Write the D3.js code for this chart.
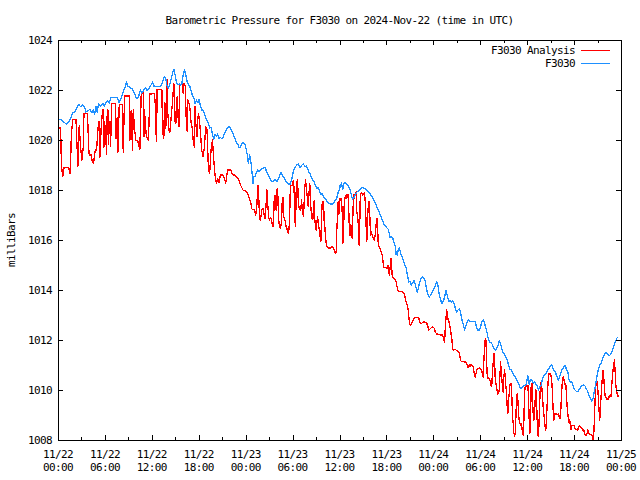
<!DOCTYPE html>
<html>
<head>
<meta charset="utf-8">
<script src="https://cdn.jsdelivr.net/npm/d3@7"></script>
<style>
  html, body { margin: 0; padding: 0; background: #fff; }
  svg { display: block; }
  text { font-family: "DejaVu Sans Mono", "Liberation Mono", monospace; font-size: 11px; letter-spacing: -0.62px; fill: #000; }
</style>
</head>
<body>
<svg id="chart" width="640" height="480"></svg>
<script>
// ---- Data (hours after 2024-11-22 00:00 UTC, pressure in millibars) ----
const chartTitle = "Barometric Pressure for F3030 on 2024-Nov-22 (time in UTC)";
const yAxisLabel = "milliBars";
const seriesNames = ["F3030 Analysis", "F3030"];
const startTime = Date.UTC(2024, 10, 22, 0, 0);
const endTime = Date.UTC(2024, 10, 25, 0, 0);
const yTickValues = [1008, 1010, 1012, 1014, 1016, 1018, 1020, 1022, 1024];

const analysisHours = [
0.08,0.34,0.43,0.60,0.68,0.77,1.36,1.53,1.62,1.70,1.87,2.30,2.38,2.55,2.64,2.72,2.89,3.06,3.23,3.32,3.74,3.83,3.91,4.00,4.26,4.34,4.51,4.60,4.77,4.94,
5.02,5.19,5.28,5.36,5.53,5.70,5.79,5.87,5.96,6.13,6.21,6.30,6.38,6.47,6.55,6.64,6.72,6.89,7.32,7.40,7.49,7.57,7.66,7.83,8.26,8.34,8.51,9.11,9.19,9.36,
9.53,9.62,9.79,9.96,10.21,10.47,10.64,10.89,10.98,11.06,11.23,11.32,11.57,11.74,12.00,12.34,12.43,12.51,12.60,12.68,13.28,13.36,13.45,13.53,13.62,13.70,13.79,13.87,13.96,14.04,
14.21,14.30,14.38,14.47,14.64,14.72,14.81,14.89,14.98,15.06,15.15,15.23,15.32,15.40,15.49,15.57,15.74,15.83,15.91,16.00,16.09,16.17,16.26,16.34,16.43,16.51,16.60,16.77,16.85,16.94,
17.02,17.11,17.19,17.28,17.36,17.45,17.53,17.62,17.70,17.79,17.87,17.96,18.04,18.13,18.38,18.55,18.73,18.89,19.06,19.24,19.40,19.57,19.75,19.92,20.08,20.26,20.43,20.59,20.77,21.10,
21.28,21.45,21.70,22.12,22.30,22.56,22.81,23.15,23.40,23.66,24.00,24.17,24.34,24.51,24.68,24.77,24.94,25.11,25.19,25.28,25.36,25.45,25.53,25.62,25.70,25.79,25.87,25.96,26.04,26.21,
26.30,26.38,26.47,26.55,26.64,26.72,26.81,26.89,26.98,27.06,27.15,27.32,27.40,27.49,27.57,27.66,27.74,27.83,27.91,28.00,28.09,28.17,28.26,28.34,28.43,28.51,28.60,28.68,28.77,28.85,
29.02,29.11,29.19,29.28,29.36,29.45,29.53,29.62,29.70,29.79,29.96,30.04,30.13,30.21,30.30,30.38,30.47,30.55,30.64,30.72,30.81,30.89,30.98,31.06,31.15,31.23,31.32,31.40,31.49,31.57,
31.66,31.74,31.83,31.91,32.00,32.08,32.17,32.25,32.34,32.42,32.51,32.59,32.68,32.76,32.85,32.94,33.02,33.11,33.19,33.28,33.36,33.45,33.53,33.62,33.70,33.79,33.87,33.96,34.04,34.13,
34.21,34.30,34.38,34.47,34.64,34.81,34.98,35.15,35.32,35.49,35.57,35.66,35.74,35.83,35.92,36.00,36.09,36.17,36.26,36.34,36.43,36.51,36.60,36.68,36.77,36.85,36.94,37.02,37.11,37.19,
37.28,37.36,37.45,37.53,37.62,37.70,37.79,37.87,37.96,38.04,38.13,38.21,38.30,38.38,38.47,38.55,38.64,38.72,38.81,38.89,38.98,39.06,39.15,39.23,39.32,39.40,39.49,39.57,39.66,39.74,
39.83,39.91,40.00,40.09,40.17,40.26,40.34,40.43,40.51,40.60,40.68,40.77,40.85,40.94,41.02,41.11,41.19,41.28,41.36,41.45,41.53,41.62,41.70,41.96,42.13,42.21,42.30,42.38,42.47,42.55,
42.64,42.72,42.81,42.89,43.06,43.15,43.23,43.32,43.40,43.49,43.57,44.00,44.17,44.26,44.34,44.51,44.68,44.77,44.85,44.94,45.02,45.11,45.28,45.45,45.62,46.13,46.30,46.47,46.64,46.81,
46.98,47.15,47.32,47.40,47.57,47.74,47.91,48.00,48.09,48.26,48.43,48.60,48.77,48.94,49.11,49.28,49.36,49.45,49.53,49.62,49.70,49.79,49.87,49.96,50.04,50.13,50.21,50.30,50.38,50.47,
50.56,50.73,50.90,51.07,51.15,51.32,51.41,51.49,51.58,52.00,52.17,52.34,52.43,52.51,52.60,52.68,52.77,53.02,53.11,53.19,53.28,53.36,53.45,53.53,53.70,53.87,54.04,54.21,54.30,54.38,
54.47,54.56,54.64,54.73,54.81,54.90,54.98,55.07,55.15,55.24,55.32,55.41,55.49,55.58,55.66,55.75,55.83,55.92,56.00,56.09,56.17,56.26,56.34,56.43,56.51,56.60,56.68,56.77,56.85,56.94,
57.02,57.11,57.19,57.28,57.36,57.45,57.53,57.62,57.70,57.79,57.87,57.96,58.04,58.13,58.21,58.30,58.39,58.47,58.56,58.64,58.73,58.81,58.90,58.98,59.07,59.15,59.24,59.32,59.41,59.49,
59.58,59.66,59.75,59.92,60.09,60.17,60.26,60.34,60.43,60.51,60.60,60.68,60.77,60.85,60.94,61.02,61.11,61.19,61.28,61.36,61.45,61.53,61.62,61.70,61.79,61.87,61.96,62.04,62.13,62.21,
62.30,62.38,62.47,62.56,62.64,62.73,62.81,62.90,62.98,63.07,63.15,63.24,63.32,63.41,63.49,63.75,63.83,64.00,64.17,64.26,64.34,64.43,64.51,64.60,64.68,64.77,64.85,64.94,65.02,65.11,
65.19,65.28,65.36,65.45,65.53,65.62,65.70,65.96,66.04,66.13,66.47,66.55,66.73,66.90,66.98,67.07,67.24,67.32,67.41,67.58,67.66,67.75,67.83,67.92,68.00,68.26,68.34,68.43,68.51,68.60,
68.68,68.77,68.85,68.94,69.02,69.11,69.19,69.28,69.36,69.45,69.53,69.62,69.70,69.79,69.87,69.96,70.04,70.13,70.21,70.30,70.39,70.47,70.56,70.64,70.73,70.81,70.90,70.98,71.07,71.15,
71.24,71.32,71.41,71.49,71.58,71.66
];
const analysisValues = [
1020.48,1020.48,1019.04,1018.53,1018.67,1018.91,1018.91,1018.67,1019.17,1020.16,1020.80,1020.83,1020.16,1018.96,1020.19,1020.56,1019.68,1019.20,1019.71,1021.07,1021.07,1020.59,1019.71,1019.40,1019.40,1019.20,1019.07,1019.20,1019.60,1019.60,
1020.00,1020.75,1020.75,1019.31,1020.53,1021.20,1021.20,1019.71,1020.75,1020.00,1019.41,1021.20,1021.20,1019.84,1020.75,1020.75,1019.76,1021.47,1021.47,1020.05,1020.05,1020.91,1019.52,1021.41,1021.41,1019.49,1021.76,1021.76,1020.00,1021.17,
1019.60,1021.20,1020.43,1020.00,1019.95,1019.63,1021.81,1021.89,1020.13,1021.20,1020.40,1020.13,1019.97,1021.84,1021.84,1021.87,1021.47,1020.40,1019.95,1022.03,1022.03,1020.53,1020.21,1020.05,1021.49,1020.53,1020.45,1022.37,1022.43,1021.07,
1020.37,1020.32,1020.53,1020.93,1021.47,1021.87,1022.27,1021.87,1020.72,1020.67,1020.75,1021.73,1021.33,1020.59,1020.53,1022.16,1022.21,1022.24,1022.16,1021.87,1022.27,1022.27,1022.16,1021.47,1020.53,1020.35,1021.60,1021.44,1021.33,1021.04,
1020.69,1020.59,1020.43,1020.00,1019.84,1019.71,1021.33,1020.67,1020.40,1020.13,1020.80,1021.07,1020.93,1020.67,1019.60,1019.33,1019.73,1020.53,1020.40,1018.80,1018.68,1019.60,1020.00,1019.20,1018.60,1018.28,1018.44,1018.28,1018.60,1018.60,
1018.44,1018.28,1018.80,1018.80,1018.61,1018.60,1018.53,1018.40,1018.16,1018.00,1017.95,1017.89,1017.79,1017.60,1017.47,1017.25,1017.20,1017.23,1017.12,1016.99,1017.17,1017.47,1018.13,1018.19,1017.47,1016.85,1016.80,1016.93,1017.23,1017.25,
1017.12,1016.96,1016.85,1017.07,1017.60,1018.00,1017.47,1017.15,1016.85,1016.80,1016.91,1016.80,1016.61,1016.53,1016.80,1017.71,1017.79,1017.33,1017.20,1018.00,1018.05,1017.23,1016.67,1016.56,1016.45,1016.59,1016.77,1017.63,1017.71,1016.93,
1016.80,1016.64,1016.51,1016.45,1016.32,1016.27,1016.40,1016.80,1018.00,1018.19,1018.19,1018.35,1018.37,1017.84,1016.80,1016.53,1018.13,1018.32,1018.40,1017.60,1017.33,1017.23,1017.20,1017.25,1017.60,1017.20,1017.07,1016.93,1017.60,1018.13,
1018.40,1018.13,1017.87,1017.60,1017.33,1017.73,1018.27,1018.13,1017.33,1016.93,1016.85,1016.83,1017.31,1017.57,1016.80,1016.51,1016.40,1016.72,1016.93,1016.75,1016.53,1016.29,1016.11,1015.95,1016.93,1017.47,1017.52,1017.55,1016.75,1016.53,
1016.11,1015.87,1015.73,1015.71,1015.68,1015.68,1015.73,1015.73,1015.60,1015.47,1015.52,1016.40,1016.93,1017.55,1017.03,1017.56,1017.67,1017.59,1017.64,1017.13,1015.88,1016.07,1017.40,1017.69,1017.67,1017.80,1017.67,1017.80,1017.80,1017.13,
1016.25,1016.17,1016.60,1016.23,1016.07,1016.87,1017.83,1017.67,1017.80,1017.88,1017.93,1017.13,1017.00,1016.73,1015.83,1015.80,1017.53,1017.85,1017.88,1017.85,1017.80,1017.85,1017.88,1017.80,1017.40,1016.60,1015.93,1016.73,1017.27,1017.53,
1017.53,1016.60,1016.20,1016.33,1016.20,1016.12,1016.07,1015.99,1016.12,1016.25,1016.60,1016.87,1016.73,1015.93,1015.75,1015.72,1015.67,1015.56,1015.53,1015.40,1015.24,1014.95,1014.89,1014.89,1014.87,1014.97,1014.73,1014.60,1014.87,1015.24,
1015.27,1014.60,1014.52,1014.47,1014.44,1014.39,1014.33,1014.20,1014.07,1013.99,1013.93,1013.93,1013.91,1013.85,1013.77,1013.53,1013.40,1013.21,1013.00,1012.73,1012.60,1012.60,1012.71,1012.81,1012.89,1012.89,1012.68,1012.65,1012.71,1012.73,
1012.71,1012.68,1012.52,1012.39,1012.44,1012.49,1012.52,1012.51,1012.48,1012.32,1012.24,1012.24,1012.21,1012.19,1012.21,1012.11,1012.00,1011.92,1012.53,1012.85,1013.20,1013.07,1012.85,1012.69,1012.72,1012.53,1012.40,1012.16,1012.00,1011.65,
1011.60,1011.63,1011.60,1011.57,1011.55,1011.47,1011.31,1011.17,1011.15,1011.12,1011.12,1010.99,1010.91,1010.96,1011.01,1010.93,1011.01,1010.99,1010.93,1010.75,1010.61,1010.51,1010.64,1010.80,1010.85,1010.88,1010.83,1010.77,1010.59,1010.51,
1011.20,1011.73,1012.05,1012.00,1011.20,1010.53,1010.45,1010.48,1010.45,1010.40,1010.27,1010.13,1010.27,1010.80,1011.12,1011.47,1011.20,1010.40,1010.27,1010.13,1009.95,1009.84,1009.87,1010.03,1010.53,1011.12,1010.80,1010.40,1010.13,1009.89,
1010.53,1010.80,1010.53,1010.13,1009.87,1009.33,1009.07,1009.60,1009.87,1010.19,1010.27,1010.24,1009.73,1008.93,1008.67,1008.27,1008.16,1008.27,1008.93,1009.73,1009.87,1009.60,1009.07,1008.80,1008.67,1008.59,1008.64,1008.53,1008.27,1008.20,
1008.80,1009.87,1010.13,1010.16,1010.19,1009.73,1008.80,1008.27,1008.80,1010.13,1010.27,1009.65,1009.07,1008.80,1008.93,1009.60,1010.00,1009.73,1008.80,1008.19,1008.13,1008.80,1009.60,1010.29,1010.27,1010.13,1009.73,1009.33,1009.07,1008.80,
1008.53,1008.40,1008.80,1009.47,1010.13,1010.59,1010.67,1010.61,1010.67,1010.53,1010.32,1009.87,1009.20,1008.80,1009.04,1009.04,1009.01,1009.04,1008.85,1008.93,1009.47,1010.00,1010.40,1010.53,1010.45,1010.32,1010.21,1010.27,1009.79,1009.33,
1009.07,1008.80,1008.67,1008.80,1008.53,1008.40,1008.59,1008.59,1008.53,1008.45,1008.40,1008.51,1008.56,1008.51,1008.48,1008.40,1008.40,1008.27,1008.19,1008.19,1008.27,1008.40,1008.32,1008.27,1008.21,1008.21,1008.13,1008.03,1008.19,1008.80,
1009.60,1010.13,1010.35,1010.32,1010.13,1009.60,1009.20,1008.80,1009.20,1009.73,1010.13,1010.53,1010.80,1010.53,1010.13,1009.79,1009.73,1009.68,1009.63,1009.65,1009.63,1009.73,1009.79,1009.81,1009.73,1010.13,1010.53,1010.80,1010.93,1011.20,
1010.80,1010.27,1010.00,1009.87,1009.73,1009.79
];

const stationHours = [
0.08,0.43,0.68,1.11,1.45,1.70,1.87,2.13,2.38,2.64,2.89,3.15,3.40,3.57,3.83,4.09,4.34,4.51,4.68,4.85,5.02,5.19,5.45,5.70,5.96,6.13,6.30,6.55,6.81,7.57,
7.83,8.09,8.34,8.60,8.77,8.94,9.19,9.53,9.79,10.04,10.30,10.55,10.72,10.98,11.23,11.40,11.66,11.91,12.09,12.26,12.60,13.02,13.28,13.45,13.62,13.79,13.96,14.13,14.30,14.47,
14.64,14.81,14.98,15.15,15.32,15.49,15.66,15.83,16.00,16.17,16.34,16.51,16.68,16.85,17.02,17.19,17.36,17.53,17.70,17.87,18.04,18.21,18.38,18.55,18.72,18.89,19.06,19.23,19.40,19.57,
19.74,19.91,20.08,20.25,20.42,20.60,20.77,20.94,21.11,21.28,21.45,21.62,21.79,21.96,22.13,22.30,22.47,22.64,22.81,22.98,23.15,23.32,23.49,23.66,23.92,24.09,24.25,24.34,24.43,24.51,
24.60,24.68,24.77,24.94,25.02,25.19,25.36,25.53,25.70,25.87,26.04,26.30,26.47,26.64,26.81,26.98,27.15,27.32,27.49,27.66,27.83,28.00,28.17,28.34,28.51,28.68,28.85,29.02,29.19,29.36,
29.53,29.70,29.87,30.04,30.21,30.38,30.55,30.72,30.89,31.06,31.23,31.40,31.57,31.74,31.91,32.08,32.25,32.42,32.59,32.76,32.94,33.11,33.28,33.45,33.62,33.79,33.96,34.13,34.30,34.47,
34.64,34.81,35.15,35.32,35.49,35.66,35.83,36.00,36.09,36.17,36.26,36.34,36.43,36.51,36.68,36.85,37.02,37.19,37.36,37.53,37.70,37.87,38.04,38.21,38.38,38.55,38.72,38.98,39.23,39.40,
39.66,39.83,40.00,40.17,40.34,40.51,40.68,40.85,41.02,41.19,41.36,41.53,41.70,41.87,42.04,42.21,42.38,42.47,42.64,42.81,42.98,43.15,43.23,43.32,43.40,43.49,43.66,43.83,44.00,44.17,
44.34,44.51,44.60,44.77,44.85,45.02,45.19,45.36,45.53,45.70,45.87,45.96,46.13,46.30,46.47,46.64,46.81,46.98,47.15,47.32,47.49,47.66,47.92,48.09,48.26,48.43,48.60,48.77,48.94,49.11,
49.28,49.45,49.62,49.79,49.96,50.13,50.30,50.47,50.64,50.81,50.98,51.15,51.32,51.49,51.66,51.83,52.00,52.17,52.34,52.51,52.68,53.19,53.36,53.53,53.70,53.87,54.04,54.21,54.38,54.55,
54.72,54.89,55.06,55.23,55.40,55.57,55.74,55.91,56.08,56.25,56.42,56.59,56.76,56.93,57.11,57.28,57.45,57.62,57.79,57.96,58.13,58.30,58.47,58.64,58.81,58.98,59.15,59.32,59.49,59.66,
59.83,59.92,60.09,60.26,60.43,60.60,60.77,60.94,61.11,61.28,61.45,61.62,61.79,61.96,62.13,62.30,62.47,62.64,62.81,62.98,63.15,63.32,63.49,63.66,63.83,64.00,64.17,64.34,64.51,64.68,
64.85,65.02,65.19,65.36,65.53,65.70,65.87,66.04,66.21,66.38,66.55,66.72,66.89,67.06,67.23,67.40,67.57,67.74,67.91,68.09,68.26,68.43,68.60,68.77,68.94,69.11,69.28,69.45,69.62,69.79,
69.96,70.13,70.30,70.47,70.64,70.81,70.98,71.15,71.32,71.49,71.66
];
const stationValues = [
1020.83,1020.80,1020.72,1020.64,1020.75,1020.93,1021.09,1021.13,1021.27,1021.43,1021.33,1021.41,1021.31,1021.12,1021.17,1021.23,1021.09,1021.20,1021.04,1021.33,1021.12,1021.47,1021.33,1021.47,1021.36,1021.49,1021.57,1021.47,1021.71,1021.71,
1021.49,1021.68,1021.92,1022.13,1022.32,1022.16,1022.11,1022.03,1021.87,1021.65,1021.73,1022.00,1021.87,1022.00,1022.08,1021.97,1022.08,1022.21,1022.32,1022.16,1022.13,1022.13,1022.24,1022.40,1022.53,1022.43,1022.16,1022.08,1022.24,1022.43,
1022.67,1022.83,1022.61,1022.29,1022.21,1022.24,1022.19,1022.24,1022.59,1022.80,1022.61,1022.35,1022.21,1022.16,1021.97,1021.79,1021.71,1021.44,1021.60,1021.49,1021.63,1021.36,1021.20,1021.20,1021.07,1020.91,1020.77,1020.67,1020.48,1020.51,
1020.24,1020.03,1020.24,1020.16,1020.24,1020.05,1020.11,1020.05,1020.11,1020.27,1020.37,1020.45,1020.53,1020.51,1020.40,1020.32,1020.16,1020.05,1019.89,1019.84,1019.71,1019.71,1019.84,1019.89,1019.84,1019.60,1019.33,1019.07,1019.23,1019.41,
1019.23,1019.09,1018.85,1018.27,1018.53,1018.53,1018.69,1018.80,1018.72,1018.80,1018.85,1018.88,1018.91,1018.77,1018.64,1018.56,1018.43,1018.35,1018.32,1018.40,1018.43,1018.32,1018.45,1018.56,1018.69,1018.59,1018.51,1018.43,1018.32,1018.27,
1018.24,1018.24,1018.40,1018.67,1018.83,1018.93,1019.01,1019.04,1018.91,1018.93,1019.01,1019.04,1018.93,1018.96,1018.88,1018.72,1018.64,1018.51,1018.40,1018.35,1018.16,1018.05,1018.11,1017.95,1017.81,1017.87,1017.73,1017.68,1017.60,1017.52,
1017.47,1017.44,1017.44,1017.52,1017.60,1017.70,1017.90,1018.00,1018.20,1018.12,1018.28,1018.12,1018.04,1018.20,1018.31,1018.25,1018.23,1018.12,1018.01,1017.77,1017.64,1017.72,1017.83,1017.91,1017.96,1018.01,1018.07,1018.09,1018.07,1018.01,
1017.93,1017.88,1017.80,1017.72,1017.61,1017.51,1017.40,1017.27,1017.16,1017.00,1016.89,1016.76,1016.63,1016.57,1016.49,1016.44,1016.23,1016.09,1016.15,1016.07,1015.91,1015.72,1015.43,1015.53,1015.40,1015.59,1015.69,1015.45,1015.32,1015.19,
1015.03,1014.89,1014.73,1014.47,1014.31,1014.36,1014.20,1014.28,1014.39,1014.23,1013.99,1013.91,1014.15,1014.36,1014.49,1014.52,1014.47,1014.33,1014.01,1013.80,1013.72,1013.80,1013.95,1014.05,1014.19,1014.32,1014.16,1013.81,1013.60,1013.44,
1013.55,1013.73,1013.97,1013.79,1013.55,1013.57,1013.52,1013.57,1013.47,1013.28,1013.12,1013.20,1013.25,1013.09,1012.80,1012.64,1012.40,1012.59,1012.72,1012.80,1012.75,1012.75,1012.72,1012.51,1012.40,1012.40,1012.53,1012.72,1012.80,1012.67,
1012.48,1012.27,1012.00,1011.92,1011.89,1011.81,1011.65,1011.60,1011.65,1011.76,1011.97,1011.87,1011.63,1011.49,1011.44,1011.31,1011.20,1010.99,1010.83,1010.80,1010.72,1010.59,1010.53,1010.43,1010.32,1010.19,1010.05,1010.11,1010.13,1010.19,
1010.20,1010.30,1010.56,1010.24,1010.43,1010.40,1010.27,1010.32,1010.24,1010.19,1010.00,1010.13,1010.19,1010.45,1010.59,1010.61,1010.69,1010.80,1010.88,1010.99,1011.01,1010.85,1010.77,1010.67,1010.51,1010.40,1010.56,1010.72,1010.85,1010.91,
1010.99,1010.83,1010.75,1010.40,1010.32,1010.35,1010.19,1010.03,1009.97,1009.92,1009.97,1010.05,1010.13,1010.19,1010.21,1010.16,1010.05,1009.95,1009.79,1009.65,1009.55,1009.68,1009.95,1010.27,1010.56,1010.85,1010.99,1011.07,1011.23,1011.36,
1011.47,1011.49,1011.44,1011.36,1011.41,1011.49,1011.65,1011.81,1011.97,1012.08,1012.11
];

// ---- Build ----
const W = 640, H = 480;
const L = 58, R = 621, T = 40, B = 440;
const svg = d3.select("#chart");
svg.append("rect").attr("width", W).attr("height", H).attr("fill", "#fff");

const x = d3.scaleUtc().domain([new Date(startTime), new Date(endTime)]).range([L, R]);
const y = d3.scaleLinear().domain([1008, 1024]).range([B, T]);

const toDate = h => new Date(startTime + h * 3600e3);
const analysis = analysisHours.map((h, i) => ({ t: toDate(h), v: analysisValues[i] }));
const station = stationHours.map((h, i) => ({ t: toDate(h), v: stationValues[i] }));

// clip
svg.append("clipPath").attr("id", "plotclip")
  .append("rect").attr("x", L).attr("y", T).attr("width", R - L + 1).attr("height", B - T + 1);

const line = d3.line().x(d => x(d.t)).y(d => y(d.v));
const plot = svg.append("g").attr("clip-path", "url(#plotclip)");
plot.append("path").datum(analysis).attr("d", line)
  .attr("fill", "none").attr("stroke", "#ff0000").attr("stroke-width", 1.3)
  .attr("stroke-linejoin", "round")
  .attr("shape-rendering", "crispEdges");
plot.append("path").datum(station).attr("d", line)
  .attr("fill", "none").attr("stroke", "#1e90ff").attr("stroke-width", 1.3)
  .attr("stroke-linejoin", "round")
  .attr("shape-rendering", "crispEdges");

// axes (gnuplot style border with inward ticks)
const majorX = d3.utcHour.every(6), minorX = d3.utcHour.every(3);
function styleAxis(g) {
  g.attr("font-family", null).attr("font-size", null);
  g.selectAll("path, line").attr("stroke", "#000").attr("shape-rendering", "crispEdges");
}
svg.append("g").attr("transform", `translate(0,${B})`)
  .call(d3.axisBottom(x).ticks(minorX).tickSizeInner(-3).tickSizeOuter(0).tickFormat(""))
  .call(styleAxis);
svg.append("g").attr("transform", `translate(0,${B})`)
  .call(d3.axisBottom(x).ticks(majorX).tickSizeInner(-5).tickSizeOuter(0).tickFormat(""))
  .call(styleAxis);
svg.append("g").attr("transform", `translate(0,${T})`)
  .call(d3.axisTop(x).ticks(minorX).tickSizeInner(-3).tickSizeOuter(0).tickFormat(""))
  .call(styleAxis);
svg.append("g").attr("transform", `translate(0,${T})`)
  .call(d3.axisTop(x).ticks(majorX).tickSizeInner(-5).tickSizeOuter(0).tickFormat(""))
  .call(styleAxis);
svg.append("g").attr("transform", `translate(${L},0)`)
  .call(d3.axisLeft(y).tickValues(yTickValues).tickSizeInner(-5).tickSizeOuter(0).tickPadding(6).tickFormat(d3.format("d")))
  .call(styleAxis);
svg.append("g").attr("transform", `translate(${R},0)`)
  .call(d3.axisRight(y).tickValues(yTickValues).tickSizeInner(-5).tickSizeOuter(0).tickFormat(""))
  .call(styleAxis);

// two-line x tick labels
const fmtDay = d3.utcFormat("%m/%d"), fmtTime = d3.utcFormat("%H:%M");
const xt = x.ticks(majorX);
const xl = svg.append("g");
xl.selectAll("text.d").data(xt).join("text").attr("class", "d")
  .attr("x", d => x(d)).attr("y", 458).attr("text-anchor", "middle").text(fmtDay);
xl.selectAll("text.t").data(xt).join("text").attr("class", "t")
  .attr("x", d => x(d)).attr("y", 471).attr("text-anchor", "middle").text(fmtTime);

// title
svg.append("text").attr("x", (L + R) / 2).attr("y", 24).attr("text-anchor", "middle").text(chartTitle);
// y label
svg.append("text").attr("transform", "translate(15,240) rotate(-90)").attr("text-anchor", "middle").text(yAxisLabel);

// legend
const legColors = ["#ff0000", "#1e90ff"];
const leg = svg.append("g");
seriesNames.forEach((name, i) => {
  const ly = 50 + i * 13;
  leg.append("text").attr("x", 575).attr("y", ly + 4).attr("text-anchor", "end").text(name);
  leg.append("line").attr("x1", 581).attr("x2", 610).attr("y1", ly + 0.5).attr("y2", ly + 0.5)
    .attr("stroke", legColors[i]).attr("stroke-width", 1).attr("shape-rendering", "crispEdges");
});
</script>
</body>
</html>
